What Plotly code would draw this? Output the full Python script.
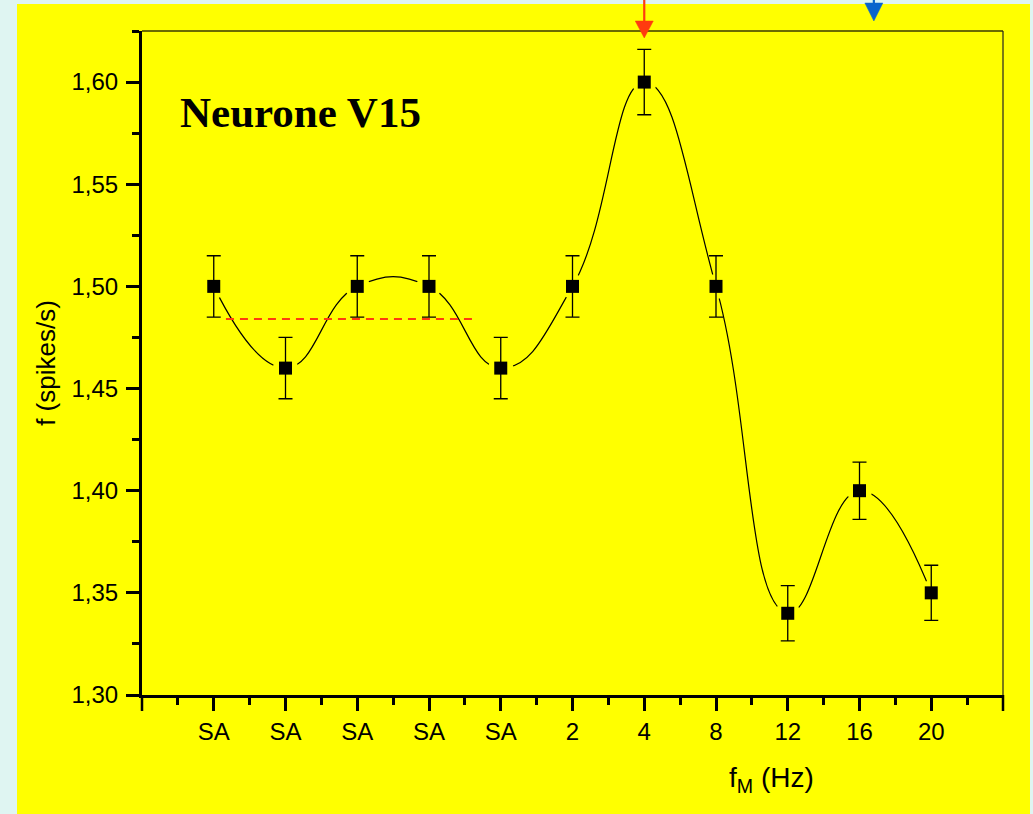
import numpy as np
import plotly.graph_objects as go

# ---------------- data ----------------
categories = ["SA", "SA", "SA", "SA", "SA", "2", "4", "8", "12", "16", "20"]
rates = [1.50, 1.46, 1.50, 1.50, 1.46, 1.50, 1.60, 1.50, 1.34, 1.40, 1.35]
errors = [0.015, 0.015, 0.015, 0.015, 0.015, 0.015, 0.016, 0.015, 0.0135, 0.014, 0.0135]
sa_count = 5                      # spontaneous-activity samples
sa_mean_span = [0.17, 3.6]        # x extent of the dashed mean line (category units)
red_arrow_x = 6                   # 4 Hz
blue_arrow_x = 9.2                # ~17 Hz
y_range = [1.30, 1.625]

# ---------------- layout geometry ----------------
W, H = 1033, 814
L, R, T, B = 142, 30, 31, 119
PW, PH = W - L - R, H - T - B
x_range = [-1, len(categories)]
px_per_unit = PW / (x_range[1] - x_range[0])

def px_x(p):
    return (p - L) / PW

def px_y(p):
    return (H - B - p) / PH

x = np.arange(len(categories))
sa_mean = float(np.mean(rates[:sa_count]))

YELLOW = "#ffff00"
CYAN = "#dff5f2"
FONT = "Liberation Sans, Arial, sans-serif"
RED = "#ff3b0f"
BLUE = "#0a64cc"
TICK_LEN, TICK_W = 13, 2.5


def arrow_shapes(xc, tip_px, head_len_px, half_w_px, color):
    hw = half_w_px / px_per_unit
    base = px_y(tip_px - head_len_px)
    tip = px_y(tip_px)
    return [
        dict(type="line", xref="x", yref="paper", x0=xc, x1=xc,
             y0=px_y(-3), y1=base, line=dict(color=color, width=2.2), layer="above"),
        dict(type="path", xref="x", yref="paper", layer="above",
             path=f"M {xc - hw},{base} L {xc + hw},{base} L {xc},{tip} Z",
             fillcolor=color, line=dict(color=color, width=0.5)),
    ]


fig = go.Figure()

# smooth connecting curve
fig.add_trace(go.Scatter(x=x, y=rates, mode="lines",
                         line=dict(color="black", width=1.2, shape="spline", smoothing=1.3),
                         hoverinfo="skip", showlegend=False))
# mask to create gaps around symbols (Origin style)
fig.add_trace(go.Scatter(x=x, y=rates, mode="markers",
                         marker=dict(symbol="circle", size=25, color=YELLOW, line=dict(width=0)),
                         hoverinfo="skip", showlegend=False))
# dashed mean line of spontaneous activity
fig.add_trace(go.Scatter(x=sa_mean_span, y=[sa_mean, sa_mean], mode="lines",
                         line=dict(color=RED, width=2, dash="8px,6px"),
                         hoverinfo="skip", showlegend=False))
# data points with error bars
fig.add_trace(go.Scatter(x=x, y=rates, mode="markers",
                         marker=dict(symbol="square", size=13, color="black", line=dict(width=0)),
                         error_y=dict(type="data", array=errors, visible=True,
                                      color="black", thickness=1.3, width=7),
                         showlegend=False))

shapes = [
    # yellow panel behind the chart
    dict(type="rect", xref="paper", yref="paper", layer="below",
         x0=px_x(17), x1=px_x(1030), y0=px_y(4), y1=px_y(H + 5),
         fillcolor=YELLOW, line=dict(width=0)),
    # thin frame on top and right
    dict(type="line", xref="paper", yref="paper", x0=0, x1=1, y0=1, y1=1,
         line=dict(color="#6b6b00", width=2)),
    dict(type="line", xref="paper", yref="paper", x0=1, x1=1, y0=0, y1=1,
         line=dict(color="#222222", width=1.2)),
]
# unlabelled major ticks at both ends of the x axis
for xe in (0, 1):
    shapes.append(dict(type="line", xref="paper", yref="paper", x0=xe, x1=xe,
                       y0=px_y(H - B), y1=px_y(H - B + 3 + TICK_LEN),
                       line=dict(color="black", width=TICK_W)))
shapes += arrow_shapes(red_arrow_x, 38, 17, 9, RED)
shapes += arrow_shapes(blue_arrow_x, 21, 18, 9, BLUE)

fig.update_layout(
    width=W, height=H,
    margin=dict(l=L, r=R, t=T, b=B, pad=0),
    paper_bgcolor=CYAN,
    plot_bgcolor=YELLOW,
    separators=",.",
    font=dict(family=FONT, size=24, color="black"),
    title=dict(text="<b>Neurone V15</b>", xref="paper", yref="paper",
               x=px_x(180), y=px_y(112), xanchor="left", yanchor="middle",
               font=dict(family="Liberation Serif, Times New Roman, serif", size=43, color="black")),
    xaxis=dict(range=x_range, tickmode="array", tickvals=list(x), ticktext=categories,
               showgrid=False, zeroline=False, showline=True, linecolor="black", linewidth=3,
               ticks="outside", ticklen=TICK_LEN, tickwidth=TICK_W, tickcolor="black",
               tickfont=dict(family=FONT, size=24),
               minor=dict(tickmode="array", tickvals=list(np.arange(-0.5, len(categories), 1.0)),
                          ticks="outside", ticklen=7, tickwidth=TICK_W, tickcolor="black", showgrid=False)),
    yaxis=dict(range=y_range, tick0=1.30, dtick=0.05, tickformat=".2f",
               title=dict(text="f (spikes/s)", font=dict(family=FONT, size=26), standoff=9),
               showgrid=False, zeroline=False, showline=True, linecolor="black", linewidth=3,
               ticks="outside", ticklen=TICK_LEN, tickwidth=TICK_W, tickcolor="black",
               tickfont=dict(family=FONT, size=24), ticklabelstandoff=3,
               minor=dict(dtick=0.025, ticks="outside", ticklen=7, tickwidth=TICK_W,
                          tickcolor="black", showgrid=False)),
    shapes=shapes,
    annotations=[
        dict(text="f<sub>M</sub> (Hz)", xref="paper", yref="paper",
             x=px_x(771), y=px_y(779), xanchor="center", yanchor="middle", showarrow=False,
             font=dict(family=FONT, size=28)),
    ],
)

fig.write_html("out.html", config={"displayModeBar": False},
               post_script="document.body.style.margin='0';document.body.style.background='%s';" % CYAN)
